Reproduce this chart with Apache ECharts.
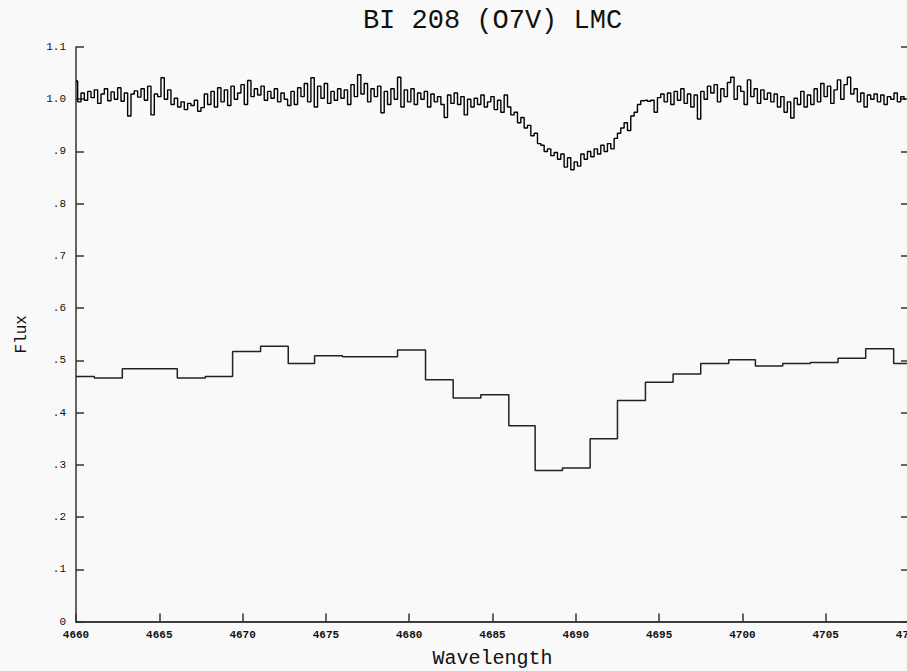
<!DOCTYPE html>
<html>
<head>
<meta charset="utf-8">
<script src="https://cdn.jsdelivr.net/npm/echarts@6/dist/echarts.min.js"></script>
<style>
html,body{margin:0;padding:0;background:#f9f9f9;}
#chart{width:907px;height:671px;}
</style>
</head>
<body>
<div id="chart"></div>
<script>
// ---------- data ----------
var titleText = 'BI 208 (O7V) LMC';
var xName = 'Wavelength';
var yName = 'Flux';
var xTicks = [4660, 4665, 4670, 4675, 4680, 4685, 4690, 4695, 4700, 4705, 4710];
var yTickLabels = ['0', '.1', '.2', '.3', '.4', '.5', '.6', '.7', '.8', '.9', '1.0', '1.1'];

// high-resolution spectrum: start wavelength and sampling step (Angstrom)
var specStart = 4660.0;
var specStep = 0.2;
var specFlux = [
  1.035, 0.995, 1.012, 0.998, 1.015,
  1.003, 1.018, 0.992, 1.010, 1.020,
  0.997, 1.014, 1.000, 1.022, 0.996,
  1.012, 0.968, 1.010, 1.016, 1.004,
  1.020, 0.998, 1.025, 0.970, 1.010,
  1.005, 1.041, 1.000, 1.018, 0.990,
  1.002, 0.985, 0.995, 0.980, 0.992,
  0.988, 0.998, 0.977, 0.984, 1.010,
  0.990, 1.015, 0.985, 1.022, 0.995,
  1.018, 0.988, 1.025, 1.000, 1.012,
  1.028, 0.990, 1.036, 1.005, 1.020,
  1.008, 1.025, 0.998, 1.015, 1.002,
  1.020, 0.995, 1.012, 1.000, 0.988,
  1.015, 0.990, 1.022, 1.005, 1.030,
  0.995, 1.041, 0.985, 1.025, 1.002,
  1.030, 0.992, 1.015, 0.998, 1.020,
  1.002, 1.018, 0.990, 1.028, 1.005,
  1.047, 1.010, 1.030, 0.995, 1.020,
  1.005, 1.025, 0.974, 1.015, 0.990,
  1.020, 1.000, 1.042, 0.985, 1.018,
  0.995, 1.020, 0.990, 1.012, 1.000,
  1.015, 0.985, 1.010, 0.995, 1.005,
  0.990, 0.965, 1.008, 0.992, 1.012,
  0.990, 1.005, 0.970, 1.000, 0.985,
  1.002, 0.990, 1.008, 0.985, 0.995,
  1.005, 0.980, 0.998, 0.975, 1.008,
  0.985, 0.970, 0.975, 0.955, 0.965,
  0.945, 0.950, 0.930, 0.935, 0.915,
  0.912, 0.900, 0.905, 0.892, 0.898,
  0.885, 0.895, 0.870, 0.888, 0.865,
  0.880, 0.872, 0.895, 0.885, 0.900,
  0.890, 0.905, 0.895, 0.912, 0.900,
  0.915, 0.905, 0.925, 0.935, 0.945,
  0.955, 0.940, 0.968, 0.975, 0.990,
  0.997, 0.998, 0.996, 0.998, 0.975,
  1.003, 1.010, 0.995, 1.012, 0.990,
  1.015, 0.998, 1.020, 0.992, 1.010,
  0.985, 1.008, 0.962, 1.015, 1.000,
  1.025, 1.012, 1.028, 0.995, 1.020,
  1.005, 1.032, 1.042, 1.000, 1.025,
  1.015, 0.990, 1.037, 1.005, 1.020,
  0.992, 1.018, 1.000, 1.012, 0.995,
  1.010, 0.985, 1.005, 0.975, 0.995,
  0.964, 1.002, 0.990, 1.015, 0.985,
  1.008, 0.990, 1.020, 0.995, 1.030,
  1.005, 1.025, 0.992, 1.018, 1.037,
  1.000, 1.028, 1.042, 1.010, 1.020,
  0.995, 1.012, 0.985, 1.008, 1.000,
  1.010, 0.995, 1.008, 0.990, 1.005,
  1.000, 1.012, 0.995, 1.005, 1.000
];

// low-resolution binned spectrum: bin start wavelengths and fluxes
var binStart = [4660.00, 4661.10, 4662.78, 4664.43, 4666.08, 4667.76, 4669.40, 4671.08, 4672.74, 4674.32,
                4676.00, 4677.65, 4679.30, 4680.98, 4682.64, 4684.30, 4685.98, 4687.56, 4689.20, 4690.86,
                4692.50, 4694.18, 4695.84, 4697.50, 4699.18, 4700.78, 4702.42, 4704.08, 4705.74, 4707.40,
                4709.08, 4710.00];
var binFlux  = [0.469, 0.466, 0.484, 0.484, 0.466, 0.469, 0.517, 0.527, 0.494, 0.509,
                0.507, 0.507, 0.520, 0.463, 0.428, 0.434, 0.375, 0.289, 0.294, 0.350,
                0.423, 0.458, 0.474, 0.494, 0.501, 0.489, 0.494, 0.496, 0.504, 0.522,
                0.494, 0.494];

// ---------- build ----------
var specData = specFlux.map(function (f, i) { return [specStart + i * specStep, f]; });
var binData = binStart.map(function (w, i) { return [w, binFlux[i]]; });

var FONT = '"Liberation Mono", "DejaVu Sans Mono", monospace';
var GL = 76, GW = 833, GT = 47, GH = 574.5;

var chart = echarts.init(document.getElementById('chart'), null, {renderer: 'svg'});
chart.setOption({
  backgroundColor: '#f9f9f9',
  animation: false,
  graphic: [{
    type: 'text',
    x: GL + GW / 2,
    y: 21,
    style: {text: titleText, font: '27px ' + FONT, fill: '#111', align: 'center', verticalAlign: 'middle'}
  }],
  grid: {left: GL, top: GT, width: GW, height: GH, containLabel: false, outerBoundsMode: 'none'},
  xAxis: [{
    type: 'value', position: 'bottom', min: 4660, max: 4710, interval: 5,
    name: xName, nameLocation: 'middle', nameGap: 27,
    nameTextStyle: {fontFamily: FONT, fontSize: 20, color: '#111'},
    axisLine: {show: true, lineStyle: {color: '#333', width: 1.5}},
    axisTick: {show: true, inside: true, length: 8, lineStyle: {color: '#333', width: 1.5}},
    axisLabel: {show: true, margin: 8, fontFamily: FONT, fontSize: 11, color: '#111', fontWeight: 'bold',
      formatter: function (v) { return String(xTicks[Math.round((v - 4660) / 5)]); }},
    splitLine: {show: false}
  }, {
    type: 'value', position: 'top', min: 4660, max: 4710, interval: 5,
    axisLine: {show: true, lineStyle: {color: '#333', width: 1.5}},
    axisTick: {show: false}, axisLabel: {show: false}, splitLine: {show: false}
  }],
  yAxis: [{
    type: 'value', position: 'left', min: 0, max: 1.1, interval: 0.1,
    name: yName, nameLocation: 'middle', nameGap: 46, nameRotate: 90,
    nameTextStyle: {fontFamily: FONT, fontSize: 16, color: '#111'},
    axisLine: {show: true, lineStyle: {color: '#333', width: 1.5}},
    axisTick: {show: true, inside: true, length: 8, lineStyle: {color: '#333', width: 1.5}},
    axisLabel: {show: true, margin: 10, fontFamily: FONT, fontSize: 11, color: '#111',
      formatter: function (v) { return yTickLabels[Math.round(v * 10)]; }},
    splitLine: {show: false}
  }, {
    type: 'value', position: 'right', min: 0, max: 1.1, interval: 0.1,
    axisLine: {show: true, lineStyle: {color: '#333', width: 1.5}},
    axisTick: {show: true, inside: true, length: 8, lineStyle: {color: '#333', width: 1.5}},
    axisLabel: {show: false}, splitLine: {show: false}
  }],
  series: [{
    type: 'line', xAxisIndex: 0, yAxisIndex: 0, data: specData, step: 'middle',
    showSymbol: false, lineStyle: {color: '#000', width: 1.4}
  }, {
    type: 'line', xAxisIndex: 0, yAxisIndex: 0, data: binData, step: 'end',
    showSymbol: false, lineStyle: {color: '#222', width: 1.5}
  }]
});
</script>
</body>
</html>
